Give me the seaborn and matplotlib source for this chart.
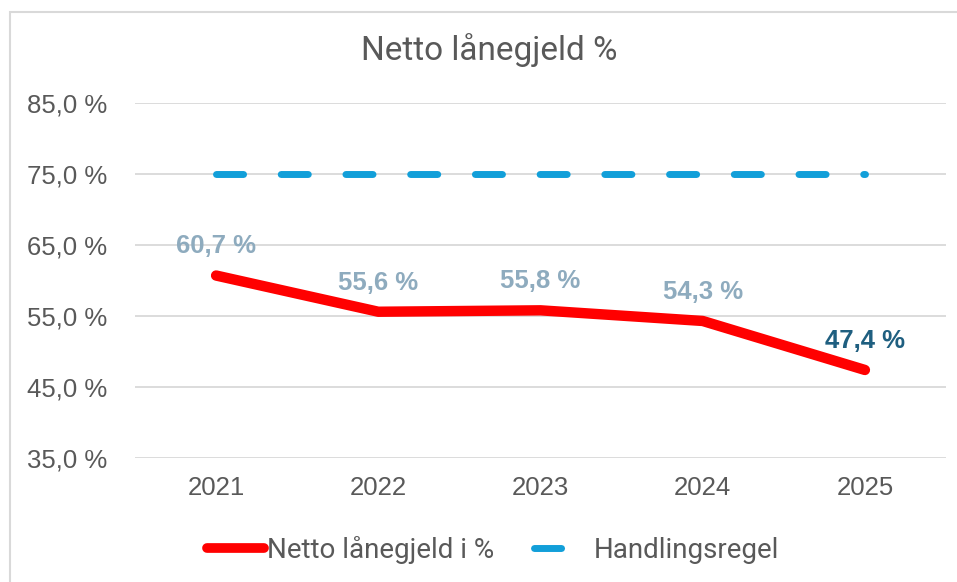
import matplotlib
matplotlib.use("Agg")
import matplotlib.pyplot as plt
import seaborn as sns
import pandas as pd
from matplotlib.patches import Rectangle
from matplotlib.lines import Line2D

years = ["2021", "2022", "2023", "2024", "2025"]
netto = [60.7, 55.6, 55.8, 54.3, 47.4]
regel = [75.0, 75.0, 75.0, 75.0, 75.0]
yticks = [35, 45, 55, 65, 75, 85]

sns.set_theme(style="white")
plt.rcParams['font.family'] = ['Liberation Sans', 'DejaVu Sans']
narrow = "Roboto"

df = pd.DataFrame({"year": years, "Netto lånegjeld i %": netto, "Handlingsregel": regel})

fig = plt.figure(figsize=(9.57, 5.82), dpi=100)
ax = fig.add_axes([135/957, 1-458/582, (946-135)/957, (458-103)/582])

fig.patches.append(Rectangle((10/957, -0.1), 1.2, 1 - 12/582 + 0.1, transform=fig.transFigure,
                             fill=False, edgecolor="#d9d9d9", linewidth=1.5))

DASH = (3.9, 5.42)
x = list(range(len(years)))
sns.lineplot(x=x, y=df["Handlingsregel"], ax=ax, color="#129fd9", linewidth=5,
             dashes=False, solid_capstyle="round")
ax.lines[-1].set_dashes(DASH)
ax.lines[-1].set_dash_capstyle("round")
sns.lineplot(x=x, y=df["Netto lånegjeld i %"], ax=ax, color="#ff0000", linewidth=7.5,
             solid_capstyle="round", solid_joinstyle="round")

for i, v in enumerate(netto):
    col = "#1f5f80" if i == len(netto) - 1 else "#8eabbe"
    ax.annotate(f"{v:.1f} %".replace(".", ","), (i, v), xytext=(0, 21), textcoords="offset points",
                ha="center", va="center", fontsize=18.5, fontweight="bold", color=col)

ax.set_xlim(-0.5, 4.5)
ax.set_ylim(35, 85)
ax.set_xticks(x)
ax.set_xticklabels(years)
ax.set_yticks(yticks)
ax.set_yticklabels([f"{t},0 %" for t in yticks])
ax.tick_params(axis="both", length=0, labelsize=18.5, colors="#595959")
ax.tick_params(axis="y", pad=20)
ax.tick_params(axis="x", pad=13)
ax.grid(axis="y", color="#d9d9d9", linewidth=1.3)
ax.grid(axis="x", visible=False)
for s in ax.spines.values():
    s.set_visible(False)
ax.set_xlabel("")
ax.set_ylabel("")

fig.text(489/957, 1-50/582, "Netto lånegjeld %", ha="center", va="center",
         fontsize=24, color="#595959", family=narrow)

handles = [Line2D([], [], color="#ff0000", linewidth=7, solid_capstyle="round"),
           Line2D([], [], color="#129fd9", linewidth=5, dashes=DASH, dash_capstyle="round")]
leg = fig.legend(handles, ["Netto lånegjeld i %", "Handlingsregel"], loc="center",
                 bbox_to_anchor=(493/957, 1-550/582), ncol=2, frameon=False,
                 handlelength=2.05, handletextpad=0.1, columnspacing=1.45,
                 prop={"family": narrow, "size": 20})
for t in leg.get_texts():
    t.set_color("#595959")

fig.savefig("out.png", dpi=100)
